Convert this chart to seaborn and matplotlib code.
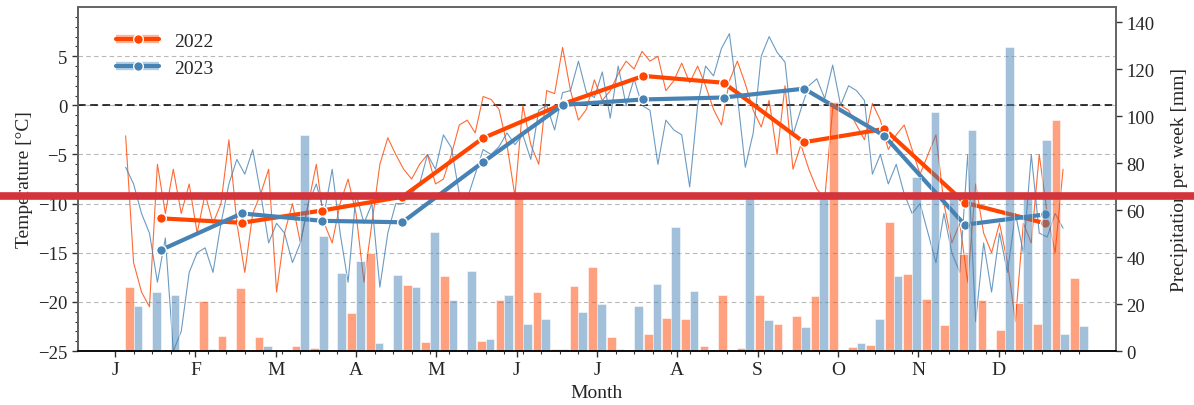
import numpy as np
import pandas as pd
import seaborn as sns
import matplotlib.pyplot as plt
from matplotlib.lines import Line2D
from matplotlib.legend_handler import HandlerTuple

# ---------------------------------------------------------------- data
years = ["2022", "2023"]
month_labels = ["J", "F", "M", "A", "M", "J", "J", "A", "S", "O", "N", "D"]

# monthly mean temperature [°C]
monthly_2022 = [-11.5, -11.95, -10.7, -9.3, -3.35, 0.15, 3.0, 2.3, -3.75, -2.4, -9.9, -12.0]
monthly_2023 = [-14.7, -11.0, -11.75, -11.9, -5.8, 0.05, 0.6, 0.8, 1.7, -3.1, -12.15, -11.1]

# weekly precipitation [mm], weeks 1..52
precip_2022 = [27.4, 0, 0, 0, 21.4, 6.5, 26.7, 5.8, 0, 2.0,
               1.3, 0, 16.2, 41.6, 0, 28.1, 3.7, 32.1, 0, 4.1,
               21.7, 66.0, 25.0, 0.9, 27.5, 35.7, 6.1, 0, 7.2, 14.0,
               13.6, 2.0, 23.8, 1.3, 23.8, 11.5, 15.0, 23.5, 105.8, 1.8,
               2.6, 54.8, 32.8, 22.1, 11.2, 41.3, 21.7, 8.9, 20.3, 11.5,
               98.4, 31.1]
precip_2023 = [19.3, 25.0, 24.0, 0, 0.7, 0, 0, 2.3, 0, 92.0,
               49.1, 33.2, 38.2, 3.4, 32.5, 27.4, 50.5, 21.7, 34.0, 5.1,
               23.8, 11.5, 13.6, 0.9, 16.5, 20.0, 0.9, 19.0, 28.5, 52.6,
               25.5, 0, 0, 66.0, 13.2, 0, 10.4, 66.0, 0, 3.4,
               13.6, 31.8, 74.0, 101.6, 66.0, 94.0, 0.9, 129.5, 66.0, 89.9,
               7.2, 10.8]

# daily mean temperature [°C], every 3rd day of the year from day 4 to day 358
sample_days = np.arange(4, 361, 3)
daily_2022 = [-3.1, -16, -19, -20.5, -6, -11, -6.5, -11, -8, -13,
              -9, -12, -10, -3.5, -12, -17, -11, -9, -6.5, -19,
              -13, -10, -14, -10, -6, -12, -14, -10, -7.5, -11,
              -18, -12, -6, -3.3, -5, -6.5, -7.5, -6, -5, -8,
              -7.5, -5, -2, -1.5, -2.8, 0.9, 0.6, -0.4, -4, -9.2,
              0, -4, -6, 1.5, 1.2, 5.9, 1.5, -1.5, -0.4, 2.6,
              0.5, 1.5, 3.2, 4.5, 3.7, 5.5, 4.5, 5, 1.5, 2.5,
              4.3, 2.3, 4, 2, -0.4, -2, 2.5, 4.5, 2.2, -0.5,
              -2.2, 0.5, -5, 2, -6.5, -4, -6.5, -8.5, -9.5, -0.3,
              0, -0.5, -2, -3.5, 0.2, -1.5, -4.5, -3, -2, -4.5,
              -7, -5, -3, -10, -14, -12, -18, -8, -13, -15,
              -12, -16, -22, -12, -14, -5, -11, -15, -6.5]
daily_2023 = [-6.3, -8, -11, -13, -18, -13.5, -25, -23, -17, -15,
              -14.5, -17, -12, -8, -5.5, -7, -4.5, -9, -14, -12,
              -13, -16, -14, -10, -8, -11, -6.5, -13, -18, -9,
              -12, -10, -18.5, -13, -10, -10, -9, -8, -5, -6.5,
              -3, -4.3, -9, -9.5, -7, -4.5, -5, -4.2, -2.8, -4,
              -3, -5.5, -0.5, 0, -2.5, 1.3, 1.5, 4.5, 1.3, 0.8,
              3.4, -1.3, 4, 0, 2.7, 0, -0.5, -6, -1.5, -2.5,
              -3, -8.3, 0, 4, 3, 5.8, 7.3, 1, -6.3, -2.8,
              5, 7, 5.4, 4.4, -3, -0.4, 2, 2.7, 0.7, 4.1,
              0, 2, 1.5, 0.5, -7, -5, -8, -6, -9, -11,
              -10, -13, -16, -11, -15, -17, -5, -22, -14, -19,
              -13, -17, -11, -15, -5, -13, -13.4, -11, -12.5]

line_colors = {"2022": "orangered", "2023": "steelblue"}

# ---------------------------------------------------------------- frames
weeks = np.arange(1, 53)
n_months = len(month_labels)
month_ticks = np.arange(n_months) * 52 / n_months
month_centres = month_ticks + 2.5

precip = pd.DataFrame({
    "week": np.concatenate([weeks, weeks]),
    "precip": precip_2022 + precip_2023,
    "year": ["2022"] * 52 + ["2023"] * 52,
})
daily = pd.DataFrame({
    "week": np.concatenate([sample_days, sample_days]) / 7,
    "temp": daily_2022 + daily_2023,
    "year": ["2022"] * len(sample_days) + ["2023"] * len(sample_days),
})
monthly = pd.DataFrame({
    "week": np.concatenate([month_centres, month_centres]),
    "temp": monthly_2022 + monthly_2023,
    "year": ["2022"] * 12 + ["2023"] * 12,
})

# ---------------------------------------------------------------- style
sns.set_theme(style="ticks")
plt.rcParams["font.family"] = ["Liberation Serif", "DejaVu Serif"]
plt.rcParams["axes.unicode_minus"] = True

fig = plt.figure(figsize=(11.94, 4.06), dpi=100)
ax = fig.add_axes([0.0653, 0.133, 0.8694, 0.847])
ax2 = ax.twinx()

# temperature: daily traces and monthly means
for yr in years:
    c = line_colors[yr]
    sns.lineplot(data=daily[daily.year == yr], x="week", y="temp", color=c,
                 lw=0.8, alpha=0.8, ax=ax, legend=False)
for yr in years:
    c = line_colors[yr]
    sns.lineplot(data=monthly[monthly.year == yr], x="week", y="temp", color=c,
                 lw=3, marker="o", markersize=7, markeredgecolor="white",
                 markeredgewidth=1, ax=ax, legend=False)

ax.axhline(0, color="black", ls=(0, (5, 3)), lw=1.1, zorder=1.5)
ax.set_yticks(np.arange(-25, 6, 5))
ax.set_yticks(np.arange(-25, 10, 1), minor=True)
ax.yaxis.grid(True, which="major", ls=(0, (4, 3)), color="#b8b8b8", lw=0.8)
ax.set_ylim(-25, 10)
ax.set_ylabel("Temperature [°C]", fontsize=14)
ax.set_xlabel("Month", fontsize=14)

# precipitation bars on the right axis
sns.barplot(data=precip, x="week", y="precip", hue="year", native_scale=True,
            palette=line_colors, alpha=0.5, saturation=1, errorbar=None,
            width=0.94, edgecolor="white", linewidth=0.7, ax=ax2, legend=False)
ax2.set_ylim(0, 146.4)
ax2.set_yticks(np.arange(0, 141, 20))
ax2.set_ylabel("Precipitation per week [mm]", fontsize=14, labelpad=12)

ax.set_xticks(month_ticks)
ax.set_xticklabels(month_labels)
ax.set_xticks(weeks, minor=True)
ax.set_xlim(-2, 54)
ax2.set_xlim(-2, 54)

for a in (ax, ax2):
    a.tick_params(which="major", length=4, width=1, labelsize=13.5, color="#333333")
    a.tick_params(which="minor", length=2.5, width=0.8, color="#333333")
ax.tick_params(axis="x", labelsize=14)
for side in ("top", "right", "left", "bottom"):
    ax.spines[side].set_visible(True)
    ax2.spines[side].set_visible(True)
    ax.spines[side].set_color("#666666")
    ax2.spines[side].set_color("#666666")
ax2.spines["bottom"].set_color("black")
ax.spines["left"].set_color("#333333")

# legend: line + marker over a light band per year
handles = []
for yr in years:
    c = line_colors[yr]
    band = Line2D([], [], color=c, alpha=0.4, lw=6, solid_capstyle="butt")
    line = Line2D([], [], color=c, lw=3, marker="o", markersize=7,
                  markeredgecolor="white", markeredgewidth=1)
    handles.append((band, line))
ax2.legend(handles, years, handler_map={tuple: HandlerTuple(ndivide=1, pad=0)},
           loc="upper left", bbox_to_anchor=(0.02, 0.978), frameon=False,
           fontsize=14, handlelength=2.2)

# horizontal marker line across the figure
fig.add_artist(Line2D([0, 1], [0.515, 0.515], transform=fig.transFigure,
                      color="#d3343c", lw=5.5, zorder=10))

fig.savefig("out.png", dpi=100)
